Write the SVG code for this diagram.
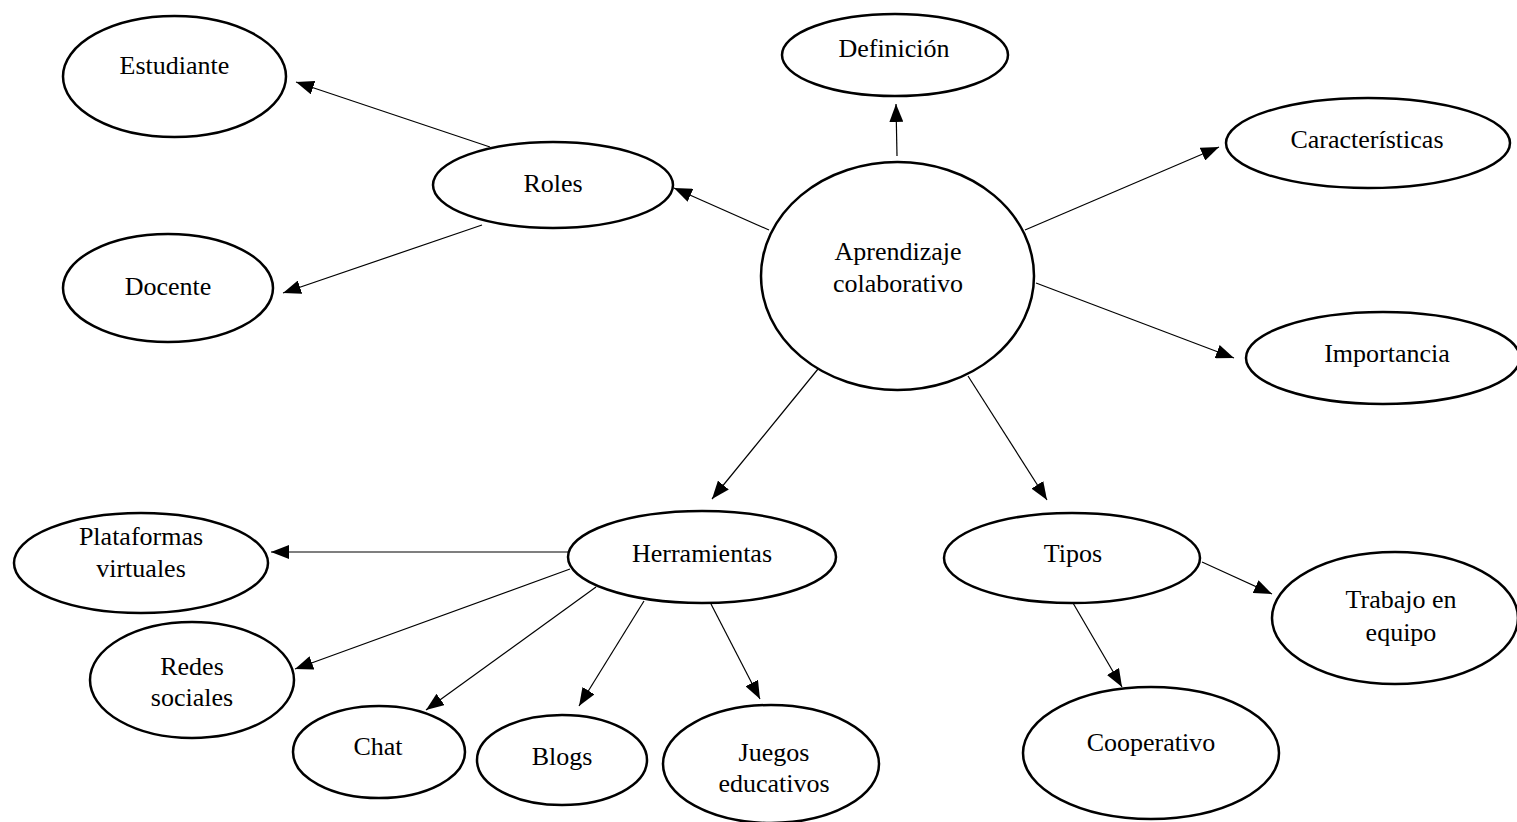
<svg xmlns="http://www.w3.org/2000/svg" width="1517" height="822" viewBox="0 0 1517 822">
  <style>
    .node ellipse { fill: #ffffff; stroke: #000000; stroke-width: 2.5; }
    .node text { font-family: "Liberation Serif", "Times New Roman", serif; font-size: 26px; fill: #000000; text-anchor: middle; }
    .edge { stroke: #000000; stroke-width: 1.2; fill: none; marker-end: url(#arrow); }
  </style>
  <defs>
    <marker id="arrow" markerUnits="userSpaceOnUse" markerWidth="18" markerHeight="14" refX="18" refY="7" orient="auto">
      <path d="M0,0 L18,7 L0,14 Z" fill="#000000"/>
    </marker>
  </defs>
  <rect width="1517" height="822" fill="#ffffff"/>

  <!-- connectors -->
  <g id="connectors">
    <line class="edge" x1="769" y1="230" x2="674" y2="188"/>
    <line class="edge" x1="897" y1="156" x2="896" y2="104"/>
    <line class="edge" x1="1025" y1="230" x2="1219" y2="147"/>
    <line class="edge" x1="1036" y1="283" x2="1234" y2="358"/>
    <line class="edge" x1="818" y1="369" x2="712" y2="499"/>
    <line class="edge" x1="968" y1="376" x2="1047" y2="500"/>
    <line class="edge" x1="490" y1="147" x2="296" y2="82"/>
    <line class="edge" x1="482" y1="225" x2="283" y2="293"/>
    <line class="edge" x1="568" y1="552" x2="271" y2="552"/>
    <line class="edge" x1="570" y1="569" x2="295" y2="669"/>
    <line class="edge" x1="596" y1="587" x2="426" y2="710"/>
    <line class="edge" x1="644" y1="601" x2="579" y2="706"/>
    <line class="edge" x1="711" y1="604" x2="760" y2="699"/>
    <line class="edge" x1="1202" y1="562" x2="1272" y2="594"/>
    <line class="edge" x1="1073" y1="603" x2="1122" y2="687"/>
  </g>

  <!-- nodes -->
  <g id="node-aprendizaje" class="node">
    <ellipse cx="897.5" cy="276" rx="136.5" ry="114"/>
    <text x="898" y="260">Aprendizaje</text>
    <text x="898" y="292">colaborativo</text>
  </g>
  <g id="node-definicion" class="node">
    <ellipse cx="895" cy="55" rx="113" ry="41"/>
    <text x="894" y="57">Definición</text>
  </g>
  <g id="node-caracteristicas" class="node">
    <ellipse cx="1368" cy="143" rx="142" ry="45"/>
    <text x="1367" y="148">Características</text>
  </g>
  <g id="node-importancia" class="node">
    <ellipse cx="1383" cy="358" rx="137" ry="46"/>
    <text x="1387" y="362">Importancia</text>
  </g>
  <g id="node-roles" class="node">
    <ellipse cx="553" cy="185" rx="120" ry="43"/>
    <text x="553" y="192">Roles</text>
  </g>
  <g id="node-estudiante" class="node">
    <ellipse cx="174.5" cy="76.5" rx="111.5" ry="60.5"/>
    <text x="174.5" y="74">Estudiante</text>
  </g>
  <g id="node-docente" class="node">
    <ellipse cx="168" cy="288" rx="105" ry="54"/>
    <text x="168" y="295">Docente</text>
  </g>
  <g id="node-herramientas" class="node">
    <ellipse cx="702" cy="557" rx="134" ry="46"/>
    <text x="702" y="562">Herramientas</text>
  </g>
  <g id="node-plataformas" class="node">
    <ellipse cx="141" cy="563" rx="127" ry="50"/>
    <text x="141" y="545">Plataformas</text>
    <text x="141" y="577">virtuales</text>
  </g>
  <g id="node-redes" class="node">
    <ellipse cx="192" cy="680" rx="102" ry="58"/>
    <text x="192" y="675">Redes</text>
    <text x="192" y="706">sociales</text>
  </g>
  <g id="node-chat" class="node">
    <ellipse cx="379" cy="752" rx="86" ry="46"/>
    <text x="378" y="755">Chat</text>
  </g>
  <g id="node-blogs" class="node">
    <ellipse cx="562" cy="760" rx="85" ry="45"/>
    <text x="562" y="765">Blogs</text>
  </g>
  <g id="node-juegos" class="node">
    <ellipse cx="771" cy="764" rx="108" ry="59"/>
    <text x="774" y="761">Juegos</text>
    <text x="774" y="792">educativos</text>
  </g>
  <g id="node-tipos" class="node">
    <ellipse cx="1072" cy="558" rx="128" ry="45"/>
    <text x="1073" y="562">Tipos</text>
  </g>
  <g id="node-trabajo" class="node">
    <ellipse cx="1395" cy="618" rx="123" ry="66"/>
    <text x="1401" y="608">Trabajo en</text>
    <text x="1401" y="641">equipo</text>
  </g>
  <g id="node-cooperativo" class="node">
    <ellipse cx="1151" cy="753" rx="128" ry="66"/>
    <text x="1151" y="751">Cooperativo</text>
  </g>
</svg>
